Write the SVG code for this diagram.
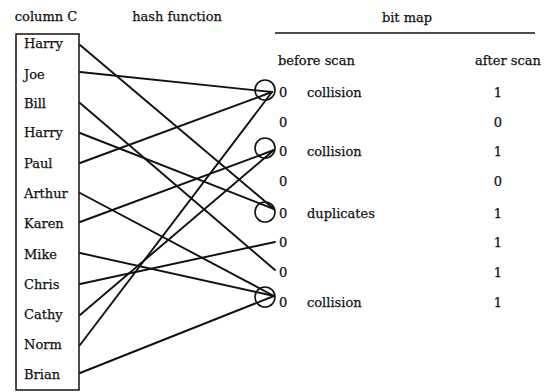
<svg xmlns="http://www.w3.org/2000/svg" width="547" height="392" viewBox="0 0 547 392">
<style>
text{font-family:"DejaVu Serif","Liberation Serif",serif;font-size:13px;fill:#111;stroke:#111;stroke-width:0.25}
.m{text-anchor:middle}
.ln{stroke:#111;stroke-width:1.9;fill:none;stroke-linecap:round}
.c{stroke:#111;stroke-width:1.6;fill:none}
</style>
<rect width="547" height="392" fill="#fff"/>
<g id="headers">
<text x="46" y="21" class="m">column C</text>
<text x="177" y="21" class="m">hash function</text>
<text x="407" y="22" class="m">bit map</text>
<line x1="275" y1="33" x2="535" y2="33" stroke="#111" stroke-width="1.6"/>
<text x="278" y="65">before scan</text>
<text x="508" y="65" class="m" font-size="13.5">after scan</text>
</g>
<g id="columnC">
<rect x="16" y="34" width="63" height="356" fill="none" stroke="#111" stroke-width="1.5"/>
<text x="24" y="48">Harry</text>
<text x="24" y="79">Joe</text>
<text x="24" y="108">Bill</text>
<text x="24" y="137">Harry</text>
<text x="24" y="168">Paul</text>
<text x="24" y="198">Arthur</text>
<text x="24" y="228">Karen</text>
<text x="24" y="259">Mike</text>
<text x="24" y="289">Chris</text>
<text x="24" y="319">Cathy</text>
<text x="24" y="349">Norm</text>
<text x="24" y="379">Brian</text>
</g>
<g id="buckets">
<circle class="c" cx="265" cy="90" r="10"/>
<circle class="c" cx="265" cy="148" r="10"/>
<circle class="c" cx="265" cy="212" r="10"/>
<circle class="c" cx="265" cy="297" r="10"/>
</g>
<g id="bitmap">
<text x="279" y="97">0</text>
<text x="279" y="127">0</text>
<text x="279" y="156">0</text>
<text x="279" y="186">0</text>
<text x="279" y="218">0</text>
<text x="279" y="247">0</text>
<text x="279" y="277">0</text>
<text x="279" y="307">0</text>
<text x="307" y="97">collision</text>
<text x="307" y="156">collision</text>
<text x="307" y="218">duplicates</text>
<text x="307" y="307">collision</text>
<text x="498" y="97" class="m">1</text>
<text x="498" y="127" class="m">0</text>
<text x="498" y="156" class="m">1</text>
<text x="498" y="186" class="m">0</text>
<text x="498" y="218" class="m">1</text>
<text x="498" y="247" class="m">1</text>
<text x="498" y="277" class="m">1</text>
<text x="498" y="307" class="m">1</text>
</g>
<g id="connectors">
<line class="ln" x1="80" y1="45" x2="274" y2="209"/>
<line class="ln" x1="80" y1="72" x2="272" y2="92"/>
<line class="ln" x1="80" y1="103" x2="275" y2="270"/>
<line class="ln" x1="80" y1="133" x2="274" y2="209"/>
<line class="ln" x1="80" y1="163" x2="272" y2="92"/>
<line class="ln" x1="80" y1="193" x2="274" y2="296"/>
<line class="ln" x1="80" y1="222" x2="274" y2="150"/>
<line class="ln" x1="80" y1="253" x2="274" y2="296"/>
<line class="ln" x1="80" y1="284" x2="275" y2="242"/>
<line class="ln" x1="80" y1="315" x2="274" y2="150"/>
<line class="ln" x1="80" y1="345" x2="272" y2="92"/>
<line class="ln" x1="80" y1="373" x2="274" y2="296"/>
</g>
</svg>
